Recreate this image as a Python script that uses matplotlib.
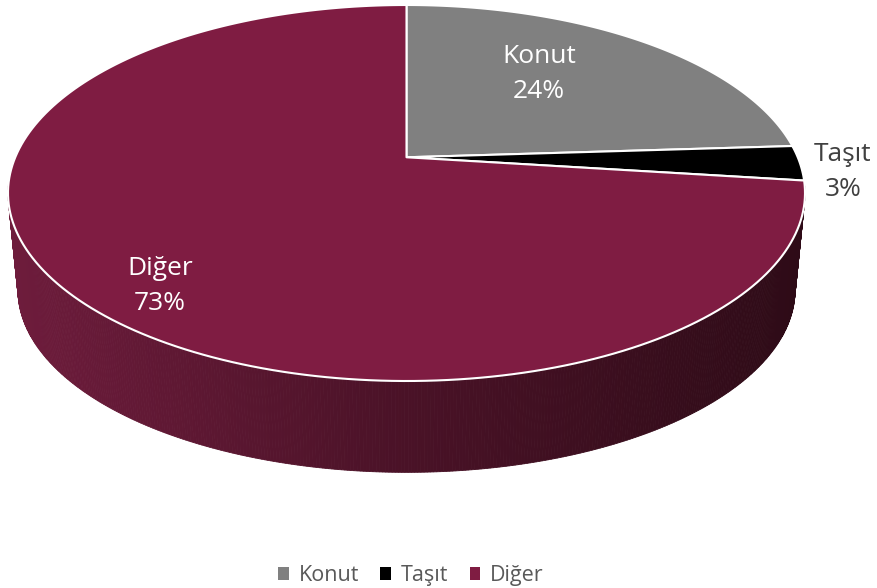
import numpy as np
import matplotlib
matplotlib.use("Agg")
import matplotlib.pyplot as plt
from matplotlib.patches import Polygon, Patch

categories = ["Konut", "Taşıt", "Diğer"]
values = [24, 3, 73]
colors = ["#808080", "#000000", "#7f1c42"]
side_colors = ["#555555", "#2e0b17", None]  # Diğer side uses gradient

plt.rcParams['font.family'] = ['Open Sans', 'DejaVu Sans']

W, H = 878, 588
fig = plt.figure(figsize=(W / 100, H / 100), dpi=100)
ax = fig.add_axes([0, 0, 1, 1])
ax.set_xlim(0, W)
ax.set_ylim(H, 0)
ax.axis("off")

# geometry of the tilted pie (pixels)
cx, cy, rx, ry = 406.5, 193.0, 398.5, 188.0
k = 0.19          # perspective shift of the centre
depth = 97.0
bsx, bsy = 0.975, 0.97   # bottom ellipse shrink


def proj(u, v):
    d = 1 + k * v
    xp = u * np.sqrt(1 - k * k) / d
    yp = (v + k) / d
    return cx + rx * xp, cy - ry * yp


def inv(xp, yp):
    v = (yp - k) / (1 - k * yp)
    u = xp * (1 + k * v) / np.sqrt(1 - k * k)
    return u, v


total = float(sum(values))
bounds = np.concatenate([[0], np.cumsum(values) / total * 360.0])


def slice_of(theta):
    theta = theta % 360
    for i in range(len(values)):
        if bounds[i] <= theta < bounds[i + 1]:
            return i
    return len(values) - 1


def lerp(c1, c2, t):
    c1 = np.array(matplotlib.colors.to_rgb(c1))
    c2 = np.array(matplotlib.colors.to_rgb(c2))
    return tuple(c1 + (c2 - c1) * t)


# side of the pie
phis = np.linspace(np.radians(176), np.radians(364), 400)
for a, b in zip(phis[:-1], phis[1:]):
    pts = []
    for p in (a, b):
        pts.append((cx + rx * np.cos(p), cy - ry * np.sin(p)))
    for p in (b, a):
        pts.append((cx + rx * bsx * np.cos(p), cy - ry * np.sin(p) * bsy + depth))
    pm = 0.5 * (a + b)
    u, v = inv(np.cos(pm), np.sin(pm))
    theta = np.degrees(np.arctan2(u, v)) % 360
    si = slice_of(theta)
    t = (np.cos(pm) + 1) / 2  # 0 left -> 1 right
    t = min(max(t, 0.0), 1.0)
    if si == 2:
        if t < 0.5:
            col = lerp("#6e1c3c", "#4a1227", t / 0.5)
        else:
            col = lerp("#4a1227", "#2e0b17", (t - 0.5) / 0.5)
    else:
        col = side_colors[si]
    ax.add_patch(Polygon(pts, closed=True, facecolor=col, edgecolor=col, lw=0.6, zorder=1))

# top slices
for i in range(len(values)):
    th = np.radians(np.linspace(bounds[i], bounds[i + 1], 200))
    xs, ys = proj(np.sin(th), np.cos(th))
    c0 = proj(0.0, 0.0)
    pts = [c0] + list(zip(xs, ys))
    ax.add_patch(Polygon(pts, closed=True, facecolor=colors[i], edgecolor="white",
                         lw=1.5, joinstyle="round", zorder=2))

# labels
lab = [f"{c}\n{v:.0f}%" for c, v in zip(categories, np.array(values) / total * 100)]
ax.text(539, 74, lab[0], color="white", fontsize=19, ha="center", va="center",
        linespacing=1.55, zorder=5)
ax.text(843, 172, lab[1], color="#404040", fontsize=19, ha="center", va="center",
        linespacing=1.55, zorder=5)
ax.text(160, 286, lab[2], color="white", fontsize=19, ha="center", va="center",
        linespacing=1.55, zorder=5)

handles = [Patch(facecolor=c, edgecolor="none", label=n) for n, c in zip(categories, colors)]
leg = fig.legend(handles=handles, loc="lower center", bbox_to_anchor=(0.468, -0.03), ncol=3,
                 frameon=False, fontsize=15.5, handlelength=0.5, handleheight=0.5,
                 handletextpad=0.45, columnspacing=1.0)
for t in leg.get_texts():
    t.set_color("#595959")

fig.savefig("out.png", dpi=100)
